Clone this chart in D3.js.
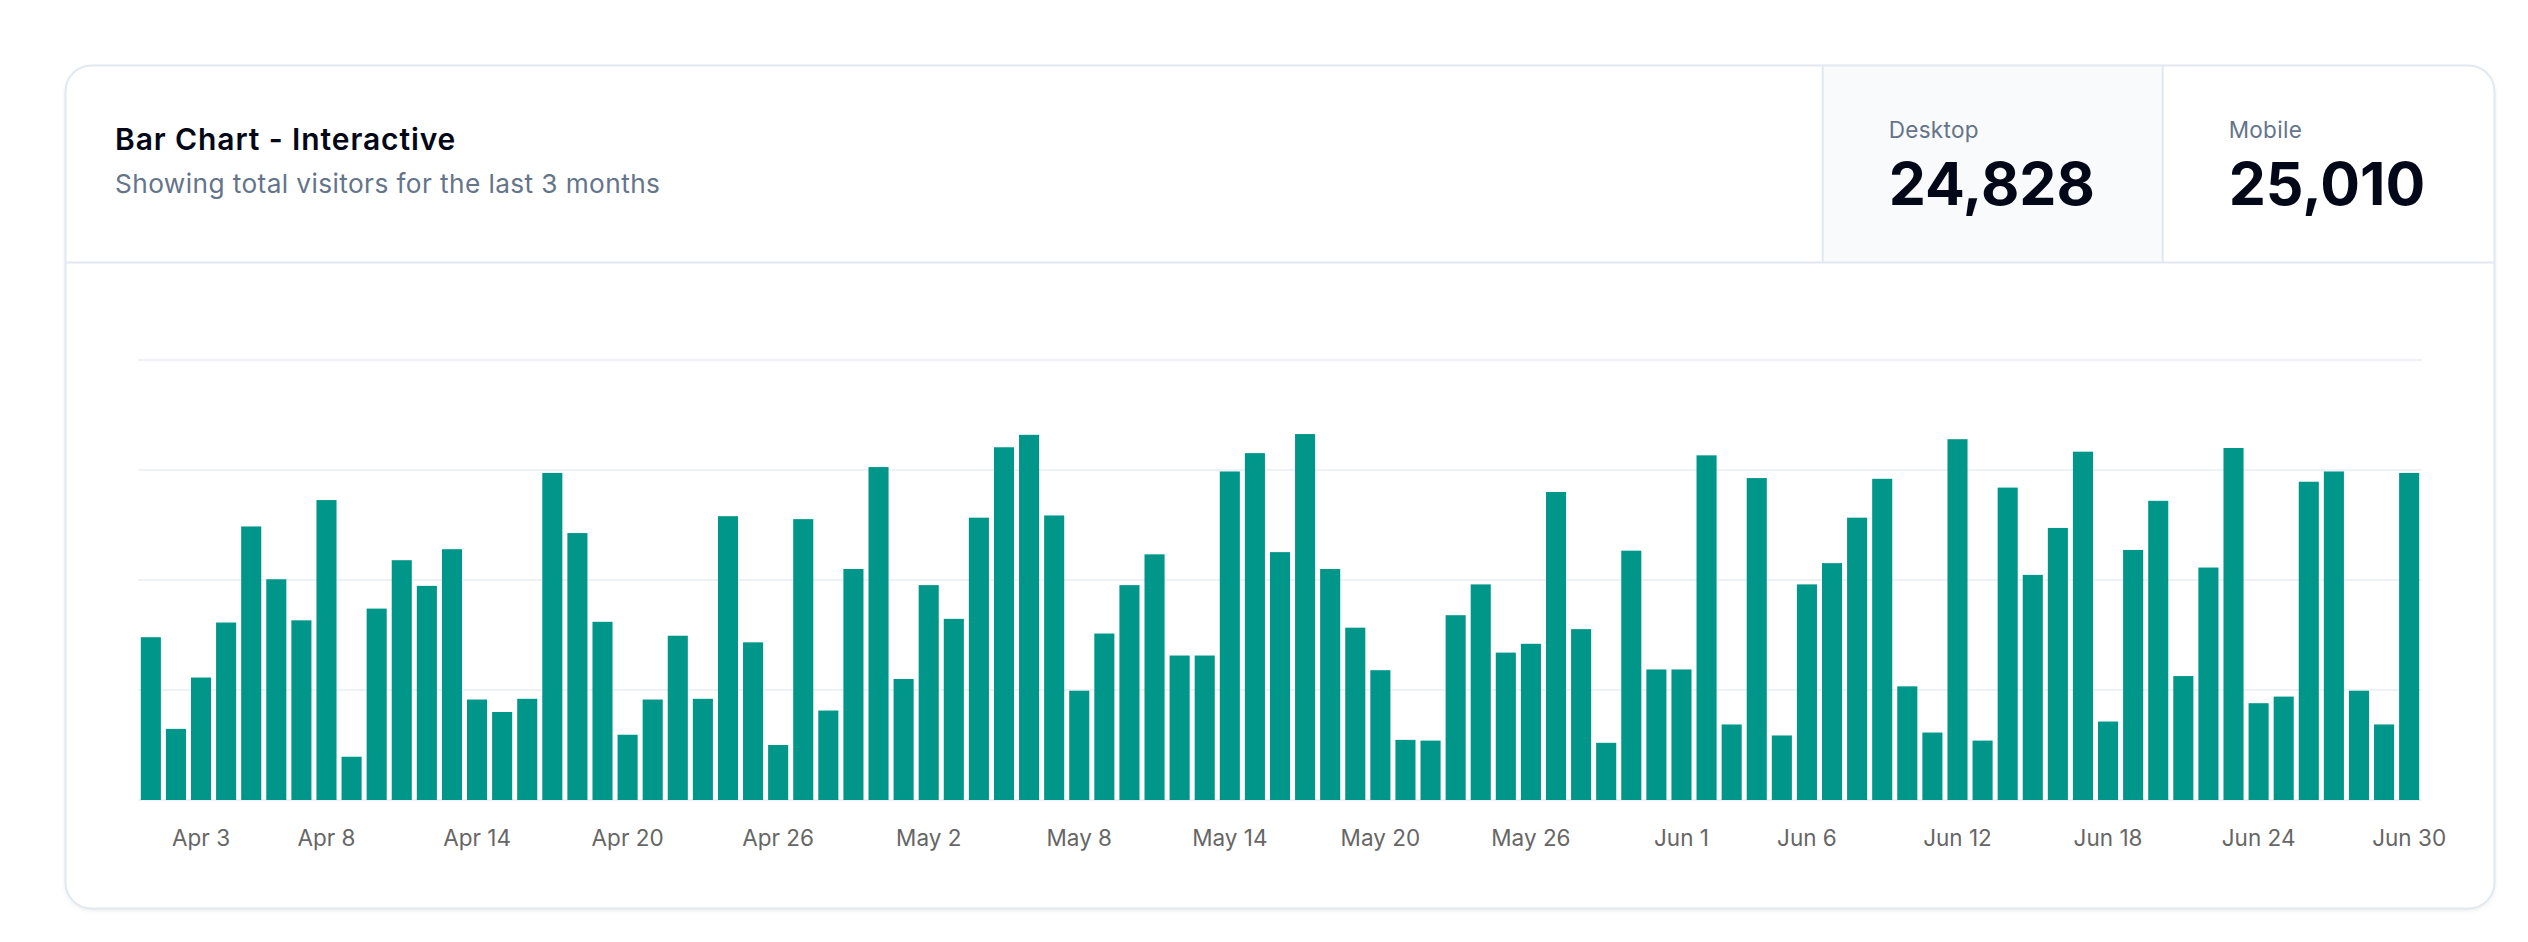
<!DOCTYPE html>
<html lang="en">

<head>
  <meta charset="UTF-8">
  <meta name="viewport" content="width=device-width, initial-scale=1.0">
  <title>Bar Chart - Interactive</title>
  <style>
    html,body{
      padding: 0;
      margin: 0;
      height: 100%;
      width: 100%;
      background: #ffffff;
      overflow: hidden;
    }
    svg {
      font-family: Inter, "Noto Sans", sans-serif;
    }
    .card-title {
      font-size: 30px;
      font-weight: 600;
      letter-spacing: 0.9px;
      fill: #020817;
    }
    .card-desc {
      font-size: 26.25px;
      letter-spacing: 0.4px;
      fill: #64748b;
    }
    .stat-label {
      font-size: 22.5px;
      letter-spacing: 0.3px;
      fill: #64748b;
    }
    .stat-value {
      font-size: 59px;
      font-weight: 700;
      fill: #020817;
    }
    .x-axis path,
    .x-axis line {
      display: none;
    }
    .x-axis text {
      font-size: 22.5px;
      fill: #666666;
      font-family: Inter, "Noto Sans", sans-serif;
    }
    .grid-line {
      stroke: #eef1f5;
      stroke-width: 2;
    }
  </style>
  <script src="https://cdn.jsdelivr.net/npm/d3@7"></script>
</head>

<body>
</body>
<script>
  // *************** data ***************
  const dates = [
    '2024-04-01', '2024-04-02', '2024-04-03', '2024-04-04', '2024-04-05', '2024-04-06', '2024-04-07', '2024-04-08',
    '2024-04-09', '2024-04-10', '2024-04-11', '2024-04-12', '2024-04-13', '2024-04-14', '2024-04-15', '2024-04-16',
    '2024-04-17', '2024-04-18', '2024-04-19', '2024-04-20', '2024-04-21', '2024-04-22', '2024-04-23', '2024-04-24',
    '2024-04-25', '2024-04-26', '2024-04-27', '2024-04-28', '2024-04-29', '2024-04-30', '2024-05-01', '2024-05-02',
    '2024-05-03', '2024-05-04', '2024-05-05', '2024-05-06', '2024-05-07', '2024-05-08', '2024-05-09', '2024-05-10',
    '2024-05-11', '2024-05-12', '2024-05-13', '2024-05-14', '2024-05-15', '2024-05-16', '2024-05-17', '2024-05-18',
    '2024-05-19', '2024-05-20', '2024-05-21', '2024-05-22', '2024-05-23', '2024-05-24', '2024-05-25', '2024-05-26',
    '2024-05-27', '2024-05-28', '2024-05-29', '2024-05-30', '2024-05-31', '2024-06-01', '2024-06-02', '2024-06-03',
    '2024-06-04', '2024-06-05', '2024-06-06', '2024-06-07', '2024-06-08', '2024-06-09', '2024-06-10', '2024-06-11',
    '2024-06-12', '2024-06-13', '2024-06-14', '2024-06-15', '2024-06-16', '2024-06-17', '2024-06-18', '2024-06-19',
    '2024-06-20', '2024-06-21', '2024-06-22', '2024-06-23', '2024-06-24', '2024-06-25', '2024-06-26', '2024-06-27',
    '2024-06-28', '2024-06-29', '2024-06-30'
  ];
  const desktop = [
    222, 97, 167, 242, 373, 301, 245, 409, 59, 261, 327, 292, 342, 137, 120, 138,
    446, 364, 243, 89, 137, 224, 138, 387, 215, 75, 383, 122, 315, 454, 165, 293,
    247, 385, 481, 498, 388, 149, 227, 293, 335, 197, 197, 448, 473, 338, 499, 315,
    235, 177, 82, 81, 252, 294, 201, 213, 420, 233, 78, 340, 178, 178, 470, 103,
    439, 88, 294, 323, 385, 438, 155, 92, 492, 81, 426, 307, 371, 475, 107, 341,
    408, 169, 317, 480, 132, 141, 434, 448, 149, 103, 446
  ];
  const tickDates = [
    '2024-04-03', '2024-04-08', '2024-04-14', '2024-04-20', '2024-04-26', '2024-05-02', '2024-05-08', '2024-05-14',
    '2024-05-20', '2024-05-26', '2024-06-01', '2024-06-06', '2024-06-12', '2024-06-18', '2024-06-24', '2024-06-30'
  ];
  const yTicks = [0, 150, 300, 450, 600];
  const totals = [
    { label: 'Desktop', value: 24828 },
    { label: 'Mobile', value: 25010 }
  ];

  // *************** layout ***************
  const width = 2528;
  const height = 942;
  const cardX = 65.5;
  const cardY = 65.5;
  const cardW = 2429;
  const cardH = 843;
  const headerBottom = 262.5;
  const statX = [1822.7, 2162.7];
  const plotLeft = 138.3;
  const plotRight = 2421.7;
  const plotTop = 360;
  const plotBottom = 800;

  const svg = d3.select('body').append('svg')
    .attr('width', width)
    .attr('height', height);

  const defs = svg.append('defs');
  const shadow = defs.append('filter')
    .attr('id', 'cardShadow')
    .attr('x', '-5%').attr('y', '-5%')
    .attr('width', '110%').attr('height', '115%');
  shadow.append('feDropShadow')
    .attr('dx', 0).attr('dy', 2)
    .attr('stdDeviation', 2.5)
    .attr('flood-color', '#0f172a')
    .attr('flood-opacity', 0.08);

  defs.append('clipPath')
    .attr('id', 'cardClip')
    .append('rect')
    .attr('x', cardX).attr('y', cardY)
    .attr('width', cardW).attr('height', cardH)
    .attr('rx', 26);

  // card
  svg.append('rect')
    .attr('x', cardX).attr('y', cardY)
    .attr('width', cardW).attr('height', cardH)
    .attr('rx', 26)
    .attr('fill', '#ffffff')
    .attr('filter', 'url(#cardShadow)');

  const inner = svg.append('g').attr('clip-path', 'url(#cardClip)');

  // desktop stat box background (active)
  inner.append('rect')
    .attr('x', statX[0]).attr('y', cardY)
    .attr('width', statX[1] - statX[0]).attr('height', headerBottom - cardY)
    .attr('fill', '#f8fafc');

  inner.append('line')
    .attr('x1', cardX).attr('x2', cardX + cardW)
    .attr('y1', headerBottom).attr('y2', headerBottom)
    .attr('stroke', '#e2e8f0').attr('stroke-width', 2);

  statX.forEach((sx) => {
    inner.append('line')
      .attr('x1', sx).attr('x2', sx)
      .attr('y1', cardY).attr('y2', headerBottom)
      .attr('stroke', '#e2e8f0').attr('stroke-width', 2);
  });

  svg.append('rect')
    .attr('x', cardX).attr('y', cardY)
    .attr('width', cardW).attr('height', cardH)
    .attr('rx', 26)
    .attr('fill', 'none')
    .attr('stroke', '#e2e8f0')
    .attr('stroke-width', 2);

  // header texts
  svg.append('text')
    .attr('class', 'card-title')
    .attr('x', 115).attr('y', 150)
    .text('Bar Chart - Interactive');
  svg.append('text')
    .attr('class', 'card-desc')
    .attr('x', 115).attr('y', 193)
    .text('Showing total visitors for the last 3 months');

  const statGroup = svg.selectAll('.stat')
    .data(totals)
    .enter()
    .append('g')
    .attr('class', 'stat')
    .attr('transform', (d, i) => `translate(${statX[i] + 66},0)`);
  statGroup.append('text')
    .attr('class', 'stat-label')
    .attr('y', 138)
    .text((d) => d.label);
  statGroup.append('text')
    .attr('class', 'stat-value')
    .attr('x', 0)
    .attr('y', 205)
    .text((d) => d3.format(',')(d.value));

  // *************** scales ***************
  const xScale = d3.scaleBand()
    .domain(dates)
    .range([plotLeft, plotRight])
    .paddingInner(0.2)
    .paddingOuter(0.1);
  const yScale = d3.scaleLinear()
    .domain([0, 600])
    .range([plotBottom, plotTop]);

  // grid
  svg.append('g')
    .selectAll('line')
    .data(yTicks)
    .enter()
    .append('line')
    .attr('class', 'grid-line')
    .attr('x1', plotLeft)
    .attr('x2', plotRight)
    .attr('y1', (d) => yScale(d))
    .attr('y2', (d) => yScale(d));

  // bars
  svg.append('g')
    .selectAll('rect')
    .data(dates.map((d, i) => ({ date: d, value: desktop[i] })))
    .enter()
    .append('rect')
    .attr('x', (d) => xScale(d.date))
    .attr('y', (d) => yScale(d.value))
    .attr('width', xScale.bandwidth())
    .attr('height', (d) => yScale(0) - yScale(d.value))
    .attr('fill', '#009689');

  // x axis
  const parse = d3.timeParse('%Y-%m-%d');
  const fmt = d3.timeFormat('%b %-d');
  const xAxis = d3.axisBottom(xScale)
    .tickValues(tickDates)
    .tickSize(0)
    .tickPadding(30)
    .tickFormat((d) => fmt(parse(d)));
  svg.append('g')
    .attr('class', 'x-axis')
    .attr('transform', `translate(0,${plotBottom})`)
    .call(xAxis);
</script>

</html>
